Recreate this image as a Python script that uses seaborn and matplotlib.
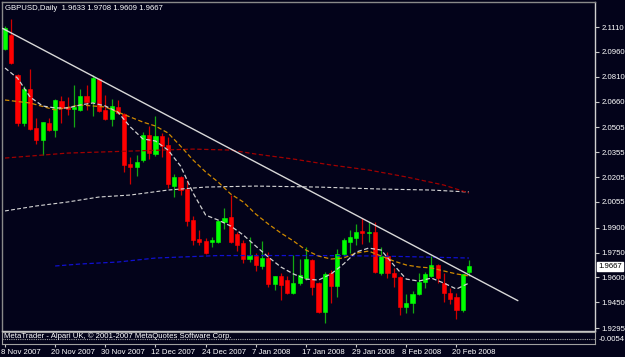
import matplotlib
matplotlib.use("Agg")
import matplotlib.pyplot as plt
import matplotlib.transforms as mtransforms
import pandas as pd
import seaborn as sns

# =====================================================
# DATA
# =====================================================

opens = [2.0977, 2.1062, 2.0821, 2.0531, 2.0736, 2.0501, 2.0429, 2.0531, 2.0489, 2.0664,
         2.0628, 2.0616, 2.0610, 2.0694, 2.0658, 2.0796, 2.0610, 2.0555, 2.0628, 2.0585,
         2.0284, 2.0266, 2.0308, 2.0459, 2.0344, 2.0453, 2.0398, 2.0151, 2.0206, 2.0133,
         1.9946, 1.9832, 1.9820, 1.9814, 1.9814, 1.9934, 1.9964, 1.9862, 1.9808, 1.9711,
         1.9729, 1.9669, 1.9717, 1.9560, 1.9609, 1.9584, 1.9506, 1.9566, 1.9596, 1.9705,
         1.9566, 1.9391, 1.9627, 1.9548, 1.9741, 1.9814, 1.9838, 1.9880, 1.9868, 1.9874,
         1.9627, 1.9729, 1.9627, 1.9602, 1.9422, 1.9446, 1.9500, 1.9572, 1.9609, 1.9675,
         1.9566, 1.9506, 1.9482, 1.9404, 1.9633]
highs = [2.1116, 2.1158, 2.0827, 2.0754, 2.0857, 2.0561, 2.0537, 2.0561, 2.0676, 2.0694,
         2.0688, 2.0760, 2.0736, 2.0760, 2.0821, 2.0802, 2.0700, 2.0676, 2.0670, 2.0591,
         2.0326, 2.0338, 2.0477, 2.0513, 2.0573, 2.0471, 2.0447, 2.0224, 2.0212, 2.0187,
         1.9970, 1.9886, 1.9838, 1.9844, 1.9946, 2.0019, 2.0097, 1.9874, 1.9826, 1.9844,
         1.9747, 1.9820, 1.9753, 1.9609, 1.9627, 1.9609, 1.9735, 1.9711, 1.9783, 1.9711,
         1.9572, 1.9633, 1.9645, 1.9771, 1.9838, 1.9886, 1.9922, 1.9958, 1.9934, 1.9934,
         1.9783, 1.9753, 1.9657, 1.9609, 1.9500, 1.9518, 1.9627, 1.9633, 1.9729, 1.9681,
         1.9627, 1.9536, 1.9506, 1.9621, 1.9708]
lows = [2.0971, 2.0887, 2.0513, 2.0513, 2.0489, 2.0404, 2.0338, 2.0483, 2.0447, 2.0531,
        2.0579, 2.0507, 2.0603, 2.0610, 2.0573, 2.0597, 2.0549, 2.0513, 2.0585, 2.0236,
        2.0163, 2.0212, 2.0296, 2.0314, 2.0332, 2.0326, 2.0139, 2.0085, 2.0097, 1.9910,
        1.9795, 1.9795, 1.9741, 1.9783, 1.9808, 1.9892, 1.9808, 1.9759, 1.9687, 1.9693,
        1.9639, 1.9651, 1.9542, 1.9524, 1.9464, 1.9500, 1.9500, 1.9554, 1.9584, 1.9494,
        1.9385, 1.9325, 1.9446, 1.9482, 1.9729, 1.9747, 1.9795, 1.9801, 1.9814, 1.9627,
        1.9615, 1.9596, 1.9542, 1.9373, 1.9385, 1.9385, 1.9494, 1.9536, 1.9602, 1.9566,
        1.9452, 1.9440, 1.9349, 1.9391, 1.9609]
closes = [2.1104, 2.0893, 2.0531, 2.0736, 2.0495, 2.0429, 2.0537, 2.0489, 2.0670, 2.0622,
          2.0616, 2.0628, 2.0694, 2.0658, 2.0802, 2.0603, 2.0555, 2.0634, 2.0591, 2.0278,
          2.0266, 2.0296, 2.0459, 2.0350, 2.0453, 2.0392, 2.0163, 2.0206, 2.0127, 1.9940,
          1.9826, 1.9814, 1.9747, 1.9826, 1.9940, 1.9958, 1.9814, 1.9795, 1.9711, 1.9735,
          1.9675, 1.9717, 1.9560, 1.9609, 1.9554, 1.9506, 1.9566, 1.9615, 1.9711, 1.9542,
          1.9391, 1.9621, 1.9548, 1.9741, 1.9826, 1.9844, 1.9874, 1.9868, 1.9874, 1.9633,
          1.9729, 1.9627, 1.9602, 1.9422, 1.9446, 1.9500, 1.9572, 1.9621, 1.9675, 1.9596,
          1.9506, 1.9470, 1.9404, 1.9621, 1.9667]

# moving averages, sampled every couple of bars
fast_ma_bars = [0, 2, 4, 6, 8, 10, 12, 14, 16, 18, 20, 22, 24, 26, 28, 30, 32, 34, 36, 38,
                40, 42, 44, 46, 48, 50, 52, 54, 56, 58, 60, 62, 64, 66, 68, 70, 72, 74]
fast_ma = [2.0863, 2.0802, 2.0688, 2.0634, 2.0622, 2.0622, 2.0640, 2.0652, 2.0634, 2.0597,
           2.0507, 2.0435, 2.0423, 2.0368, 2.0272, 2.0109, 1.9976, 1.9946, 1.9910, 1.9856,
           1.9789, 1.9723, 1.9663, 1.9621, 1.9590, 1.9584, 1.9621, 1.9681, 1.9753, 1.9777,
           1.9765, 1.9675, 1.9590, 1.9578, 1.9596, 1.9566, 1.9530, 1.9566]

mid_ma_bars = [0, 4, 8, 12, 16, 18, 20, 22, 24, 26, 28, 30, 32, 34, 36, 38, 40, 42, 44, 46,
               48, 50, 52, 54, 56, 58, 60, 62, 64, 66, 68, 70, 72, 74]
mid_ma = [2.0670, 2.0652, 2.0610, 2.0640, 2.0628, 2.0597, 2.0567, 2.0537, 2.0513, 2.0471,
          2.0392, 2.0308, 2.0236, 2.0175, 2.0103, 2.0055, 1.9982, 1.9922, 1.9868, 1.9820,
          1.9765, 1.9729, 1.9711, 1.9717, 1.9747, 1.9759, 1.9729, 1.9699, 1.9675, 1.9663,
          1.9657, 1.9639, 1.9621, 1.9609]

slow_ma_bars = [0, 10, 20, 30, 36, 40, 46, 52, 58, 64, 70, 74]
slow_ma = [2.0320, 2.0350, 2.0362, 2.0374, 2.0368, 2.0344, 2.0314, 2.0278, 2.0248, 2.0206,
           2.0157, 2.0109]

long_ma_bars = [0, 5, 10, 15, 20, 26, 32, 40, 50, 60, 68, 74]
long_ma = [2.0001, 2.0031, 2.0055, 2.0085, 2.0097, 2.0127, 2.0145, 2.0151, 2.0145, 2.0133,
           2.0127, 2.0115]

blue_ma_bars = [8, 12, 18, 24, 34, 50, 60, 74]
blue_ma = [1.9669, 1.9681, 1.9693, 1.9717, 1.9732, 1.9732, 1.9729, 1.9717]

trend_bars = [-0.4, 81.8]
trend_prices = [2.1102, 1.9460]

price_ticks = [2.1110, 2.0960, 2.0810, 2.0660, 2.0505, 2.0355, 2.0205, 2.0055,
               1.9900, 1.9750, 1.9600, 1.9450, 1.9295]

date_ticks = [0, 8, 16, 24, 32, 40, 48, 56, 64, 72]
date_labels = ["8 Nov 2007", "20 Nov 2007", "30 Nov 2007", "12 Dec 2007", "24 Dec 2007",
               "7 Jan 2008", "17 Jan 2008", "29 Jan 2008", "8 Feb 2008", "20 Feb 2008"]

title = "GBPUSD,Daily  1.9633 1.9708 1.9609 1.9667"
last_price = 1.9667

# =====================================================
# STYLE
# =====================================================

bg = "#03031a"
sns.set_style("dark", {"axes.facecolor": bg, "figure.facecolor": bg})
plt.rcParams["font.family"] = ["Liberation Sans", "DejaVu Sans"]
fs = 5.6

df = pd.DataFrame({
    "bar": range(len(opens)),
    "open": opens,
    "high": highs,
    "low": lows,
    "close": closes
})
df["up"] = df["close"] >= df["open"]

fig = plt.figure(figsize=(6.25, 3.57), dpi=100)
ax = fig.add_axes([2 / 625, 1 - 331 / 357, 593 / 625, 329 / 357])
sub = fig.add_axes([2 / 625, 1 - 344 / 357, 593 / 625, 12 / 357])

xlim = (-0.48, 94.1)

# =====================================================
# CANDLES
# =====================================================

body_col = df["up"].map({True: "#00ff00", False: "#ff0000"})
wick_col = df["up"].map({True: "#12a812", False: "#d00000"})

ax.vlines(df["bar"], df["low"], df["high"], colors=wick_col, linewidth=0.9, zorder=2)
ax.bar(df["bar"], df["close"] - df["open"], bottom=df["open"], width=0.66,
       color=body_col, edgecolor=body_col, linewidth=0.4, zorder=2.5)

# =====================================================
# INDICATOR LINES
# =====================================================

dash = (0, (3.5, 2))
sns.lineplot(x=long_ma_bars, y=long_ma, ax=ax, color="#d6d6d6", linewidth=0.8,
             linestyle=dash, zorder=3)
sns.lineplot(x=slow_ma_bars, y=slow_ma, ax=ax, color="#a00000", linewidth=0.9,
             linestyle=dash, zorder=3)
sns.lineplot(x=blue_ma_bars, y=blue_ma, ax=ax, color="#1010d0", linewidth=0.9,
             linestyle=dash, zorder=3)
sns.lineplot(x=mid_ma_bars, y=mid_ma, ax=ax, color="#d08a00", linewidth=0.9,
             linestyle=dash, zorder=3)
sns.lineplot(x=fast_ma_bars, y=fast_ma, ax=ax, color="#d0d0d0", linewidth=0.9,
             linestyle=dash, zorder=3)
sns.lineplot(x=trend_bars, y=trend_prices, ax=ax, color="#d8d8d8", linewidth=1.0,
             zorder=4)

# =====================================================
# AXES
# =====================================================

ax.set_xlim(*xlim)
ax.set_ylim(1.9277, 2.1261)
ax.set_xticks([])
ax.set_xlabel("")
ax.set_ylabel("")
ax.yaxis.tick_right()
ax.set_yticks(price_ticks)
ax.set_yticklabels([f"{p:.4f}" for p in price_ticks])
ax.tick_params(axis="y", colors="#c8c8c8", labelcolor="white", length=3,
               width=0.8, pad=1.5, labelsize=fs, direction="out", right=True)
ax.grid(False)
for side, col in [("left", "#8a8a8a"), ("right", "#d0d0d0"),
                  ("top", "#8a8a8a"), ("bottom", "#c8c8c8")]:
    ax.spines[side].set_visible(True)
    ax.spines[side].set_color(col)
    ax.spines[side].set_linewidth(1.0)

# last price box
box_tr = mtransforms.blended_transform_factory(ax.transAxes, ax.transData) + \
    mtransforms.ScaledTranslation(3 / 100, 0, fig.dpi_scale_trans)
ax.text(1.0, last_price, f"{last_price:.4f}", transform=box_tr, ha="left", va="center",
        fontsize=fs, color="black", zorder=6, clip_on=False,
        bbox=dict(facecolor="white", edgecolor="white", pad=0.9))

fig.text(5 / 625, 1 - 8 / 357, title, color="white", fontsize=fs, va="center", ha="left")

# sub window
sub.set_xlim(*xlim)
sub.set_ylim(-1, 1)
sub.axhline(-0.2, color="#a0a0a0", linewidth=0.8, linestyle=(0, (1, 1)))
sub.set_yticks([])
sub.text(0.003, 0.62, "MetaTrader - Alpari UK, \u00a9 2001-2007 MetaQuotes Software Corp.",
         transform=sub.transAxes, color="white", fontsize=fs, va="center", ha="left")
sub.text(1.006, 0.4, "-0.0054", transform=sub.transAxes, color="white", fontsize=fs,
         va="center", ha="left", clip_on=False)
sub.grid(False)
for side in ["left", "right", "top", "bottom"]:
    sub.spines[side].set_visible(True)
    sub.spines[side].set_color("#a0a0a0")
    sub.spines[side].set_linewidth(0.8)

sub.set_xticks(date_ticks)
sub.set_xticklabels(date_labels)
sub.tick_params(axis="x", colors="#c8c8c8", labelcolor="white", length=2,
                width=0.8, pad=1.5, labelsize=fs, direction="out", bottom=True)
shift = mtransforms.ScaledTranslation(-4 / 100, 0, fig.dpi_scale_trans)
for lbl in sub.get_xticklabels():
    lbl.set_horizontalalignment("left")
    lbl.set_transform(lbl.get_transform() + shift)

fig.savefig("out.png", dpi=100, facecolor=bg)
